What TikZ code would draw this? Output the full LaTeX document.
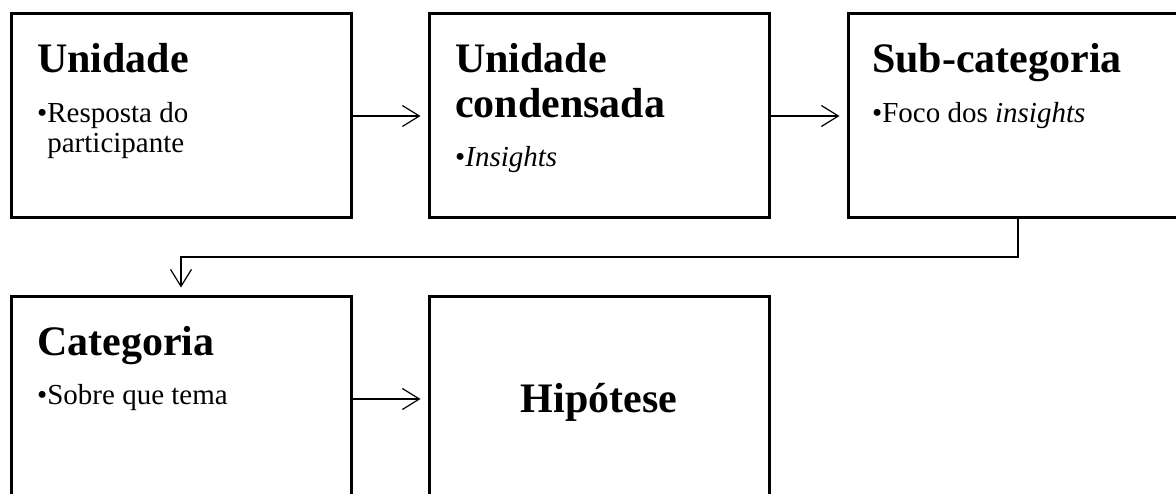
\documentclass[tikz,border=0pt]{standalone}
\usepackage{fontspec}
\setmainfont{Liberation Serif}
\usetikzlibrary{arrows.meta}
\begin{document}
\begin{tikzpicture}[x=1pt,y=1pt,
  box/.style={draw=black,line width=3pt,rectangle,minimum width=340pt,minimum height=204pt,inner sep=0pt},
  ttl/.style={anchor=base west,inner sep=0pt,font=\fontsize{42}{45}\selectfont\bfseries},
  bul/.style={anchor=base west,inner sep=0pt,font=\fontsize{29}{30}\selectfont},
  conn/.style={draw=black,line width=1.2pt,-{Straight Barb[length=17pt,width=21pt,line width=1.2pt]}}]
\useasboundingbox (0,0) rectangle (1176,-494);
% boxes
\node[box] (b1) at (181,-116) {};
\node[box] (b2) at (599,-116) {};
\node[box] (b3) at (1018,-116) {};
\node[box] (b4) at (181,-399) {};
\node[box] (b5) at (599,-399) {};
% texts
\node[ttl] (t1) at (37,-73) {Unidade};
\node[bul] (s1a) at (37,-123) {\textbullet Resposta do};
\node[bul] (s1b) at (37,-153) {\hphantom{\textbullet}participante};
\node[ttl] (t2a) at (455,-73) {Unidade};
\node[ttl] (t2b) at (455,-118) {condensada};
\node[bul] (s2) at (455,-167) {\textbullet\textit{Insights}};
\node[ttl] (t3) at (872,-73) {Sub-categoria};
\node[bul] (s3) at (872,-123) {\textbullet Foco dos \textit{insights}};
\node[ttl] (t4) at (37,-356) {Categoria};
\node[bul] (s4) at (37,-405) {\textbullet Sobre que tema};
\node[anchor=base,inner sep=0pt,font=\fontsize{42}{45}\selectfont\bfseries] (t5) at (599,-413) {Hipótese};
% connectors
\coordinate (m) at (0,-257);
\draw[conn,shorten >=7pt] (b1.east) -- (b2.west);
\draw[conn,shorten >=7pt] (b2.east) -- (b3.west);
\draw[conn,shorten >=8pt] (b3.south) -- (b3.south |- m) -- (b4.north |- m) -- (b4.north);
\draw[conn,shorten >=7pt] (b4.east) -- (b5.west);
\end{tikzpicture}
\end{document}
